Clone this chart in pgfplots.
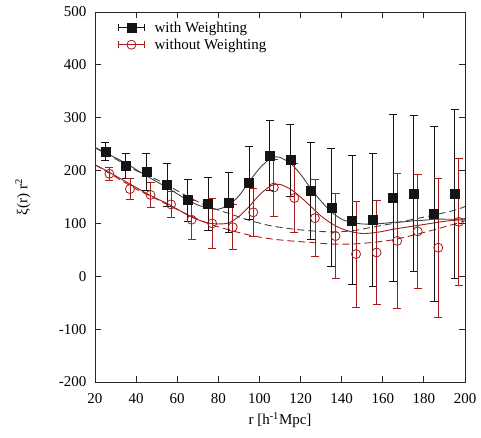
\documentclass[border=0pt]{standalone}
\usepackage{fontspec}
\setmainfont{Liberation Serif}
\usepackage{pgfplots}
\pgfplotsset{compat=1.18}
\usepackage{pgfplotstable}
\definecolor{myred}{RGB}{168,28,28}
\definecolor{myblack}{RGB}{20,20,20}

\pgfplotstableread{
x y e
25 236 17
35 209 24
45 197 35
55 173 40
65 144 40
75 137 50
85 140 57
95 177 69
105 229 66
115 220 68
125 161 92
135 130 112
145 106 122
155 107 126
165 148 158
175 157 147
185 118 165
195 156 160
}\withW

\pgfplotstableread{
x y e
27 194 12
37 165 20
47 154 23
57 136 25
67 107 37
77 100 47
87 93 43
97 121 45
107 168 54
117 148 65
127 110 73
137 76 80
147 42 100
157 45 99
167 67 128
177 85 108
187 54 131
197 103 120
}\withoutW

\begin{document}
\begin{tikzpicture}
\begin{axis}[
  scale only axis,
  width=370pt, height=370pt,
  xmin=20, xmax=200, ymin=-200, ymax=500,
  xtick={20,40,...,200},
  ytick={-200,-100,...,500},
  tick align=inside,
  major tick length=6pt,
  axis line style={line width=0.8pt, black!85},
  every tick/.style={black!85, line width=0.8pt},
  tick label style={font=\fontsize{15}{18}\selectfont},
  xticklabel style={yshift=-8pt},
  yticklabel style={xshift=-5pt},
  /pgf/number format/assume math mode=true,
  /pgf/number format/1000 sep={},
  xlabel={r [h\textsuperscript{-1}Mpc]},
  ylabel={ξ(r) r\textsuperscript{2}},
  label style={font=\fontsize{15}{18}\selectfont},
  xlabel style={at={(axis description cs:0.5,-0.103)}, anchor=center},
  ylabel style={at={(axis description cs:-0.195,0.5)}, anchor=center},
  legend style={draw=none, fill=none, at={(axis description cs:0.059,0.982)}, anchor=north west,
    font=\fontsize{15}{16}\selectfont, row sep=1pt, inner sep=1pt},
  legend cell align=left,
  legend image code/.code={
    \draw[#1, mark=none, solid, line width=0.8pt] (0pt,-3.5pt) -- (0pt,3.5pt) (0pt,0pt) -- (26pt,0pt) (26pt,-3.5pt) -- (26pt,3.5pt);
    \draw[#1] plot coordinates {(13pt,0pt)};
    \path (34pt,0pt);
  },
  clip=true,
]
% curves
\addplot[myblack!80, line width=0.9pt, smooth, forget plot] coordinates {
(20,244) (25,234) (30,224) (35,214) (40,202) (45,190) (50,179) (55,168) (60,156) (65,144) (70,135) (75,129) (80,127) (85,135) (90,152) (95,179) (100,204) (105,222) (108,226) (110,225) (115,214) (120,193) (125,166) (130,142) (135,122) (140,108) (145,102) (150,99) (155,99) (160,100) (165,102) (170,103) (175,105) (180,106) (185,108) (190,108) (195,108) (200,109)};
\addplot[myblack!80, line width=0.9pt, dash pattern=on 7pt off 4pt, smooth, forget plot] coordinates {
(20,243) (30,222) (40,200) (50,183) (55,173) (65,151) (75,132) (85,119) (95,106) (105,96) (115,90) (125,86) (135,84) (145,86) (155,93) (165,100) (175,108) (185,116) (195,125) (200,132)};
\addplot[myred, line width=0.9pt, smooth, forget plot] coordinates {
(20,211) (25,201) (30,190) (35,179) (40,168) (45,157) (50,147) (55,138) (60,127) (65,116) (70,107) (75,101) (80,99) (85,101) (90,113) (95,132) (100,154) (105,170) (108,174) (110,174) (115,165) (120,150) (125,132) (130,114) (135,100) (140,90) (145,84) (150,81) (155,82) (160,85) (165,89) (170,92) (175,95) (180,98) (185,101) (190,104) (195,106) (200,107)};
\addplot[myred, line width=0.9pt, dash pattern=on 7pt off 4pt, smooth, forget plot] coordinates {
(20,211) (30,188) (40,165) (50,146) (55,136) (65,117) (75,100) (85,88) (95,78) (105,71) (115,67) (125,64) (135,61) (145,61) (155,64) (165,69) (175,78) (185,88) (195,99) (200,105)};
% data
\addplot[myblack, only marks, mark=square*, mark size=4.5pt,
  error bars/.cd, y dir=both, y explicit,
  error bar style={line width=0.8pt, myblack},
  error mark options={rotate=90, mark size=4pt, line width=0.8pt, myblack}]
  table[x=x, y=y, y error=e] {\withW};
\addlegendentry{with Weighting}
\addplot[myred, only marks, mark=o, mark size=4.5pt, mark options={line width=0.8pt},
  error bars/.cd, y dir=both, y explicit,
  error bar style={line width=0.8pt, myred},
  error mark options={rotate=90, mark size=4pt, line width=0.8pt, myred}]
  table[x=x, y=y, y error=e] {\withoutW};
\addlegendentry{without Weighting}
\end{axis}
\pgfresetboundingbox
\path ([shift={(-95pt,-56pt)}]current axis.south west) rectangle ([shift={(16pt,12pt)}]current axis.north east);
\end{tikzpicture}
\end{document}
